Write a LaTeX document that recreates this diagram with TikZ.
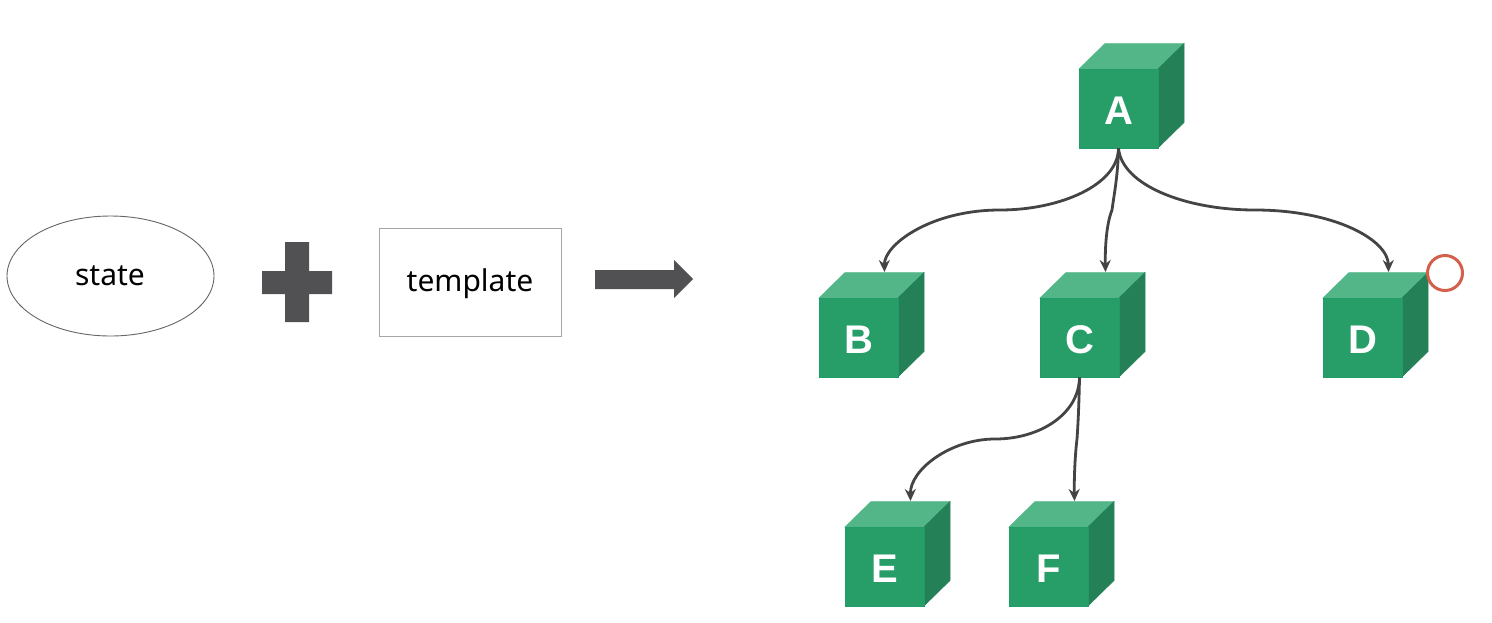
\documentclass[tikz,border=0pt]{standalone}
\usepackage{fontspec}
\setmainfont{Liberation Sans}
\newfontfamily\labelfont{Noto Sans}
\usetikzlibrary{arrows.meta,shapes.geometric}
\definecolor{cubefront}{HTML}{279E68}
\definecolor{cubeedge}{HTML}{1F9C68}
\definecolor{cubetop}{HTML}{52B688}
\definecolor{cubeside}{HTML}{248056}
\definecolor{ink}{HTML}{444444}
\definecolor{shapeink}{HTML}{515052}
\definecolor{ringred}{HTML}{D2604A}
\tikzset{
  cubeface/.style={draw=cubeedge,line width=0.8pt,fill=cubefront,minimum width=79pt,minimum height=79pt,inner sep=0pt,text=white},
  cubeletter/.style={inner sep=0pt,text=white,font=\fontsize{40}{40}\selectfont\bfseries},
  link/.style={draw=ink,line width=2.8pt,-{Stealth[length=12pt,width=11pt]}},
  outline/.style={draw=#1,line width=0.9pt,fill=white,inner sep=0pt},
  caption/.style={font=\labelfont\fontsize{30}{30}\selectfont,text=black}
}
\newcommand{\greencube}[4]{%
  \filldraw[cubetop,line width=0.5pt] (#2,#3) -- ++(26,-25.5) -- ++(79,0) -- (#2+79,#3) -- cycle;
  \filldraw[cubeside,line width=0.5pt] (#2+79,#3) -- ++(26,-25.5) -- ++(0,79) -- (#2+79,#3+79) -- cycle;
  \node[cubeface] (#1) at (#2+39.5,#3+39.5) {};
  \node[cubeletter] (#1label) at (#2+39.5,#3+41.5) {#4};
  \coordinate (#1top) at (#2+65.5,#3-26);
}
\begin{document}
\begin{tikzpicture}[x=1pt,y=-1pt]
\useasboundingbox (0,0) rectangle (1492,622);
\node[outline=gray!80!black,ellipse,minimum width=207pt,minimum height=120pt] (state) at (110.5,276) {};
\node[caption] (statetext) at (110,276) {state};
\node[outline=gray!70,minimum width=182pt,minimum height=108pt] (template) at (470,282) {};
\node[caption] (templatetext) at (470,284) {template};
\fill[shapeink] (262,271) -- (285,271) -- (285,242) -- (309,242) -- (309,271) -- (332,271) -- (332,294) -- (309,294) -- (309,322) -- (285,322) -- (285,294) -- (262,294) -- cycle;
\fill[shapeink] (595,270) -- (674,270) -- (674,260) -- (693,279) -- (674,298) -- (674,289) -- (595,289) -- cycle;
\greencube{A}{1079}{69}{A}
\greencube{B}{819}{298}{B}
\greencube{C}{1040}{298}{C}
\greencube{D}{1323}{298}{D}
\greencube{E}{845}{527}{E}
\greencube{F}{1009}{527}{F}
\draw[link] (A.south) .. controls (1118,185) and (1060,210) .. (1000,210) .. controls (930,210) and (884,245) .. (Btop);
\draw[link] (A.south) .. controls (1118,175) and (1114,195) .. (1112,210) .. controls (1106,225) and (1105,250) .. (Ctop);
\draw[link] (A.south) .. controls (1122,185) and (1185,210) .. (1255,210) .. controls (1335,210) and (1388,240) .. (Dtop);
\draw[link] (C.south) .. controls (1079,414) and (1040,439) .. (995,439) .. controls (950,439) and (910,470) .. (Etop);
\draw[link] (C.south) .. controls (1079,405) and (1078,425) .. (1077,439) .. controls (1075,455) and (1074,480) .. (Ftop);
\node[draw=ringred,line width=3pt,circle,minimum size=35pt,inner sep=0pt] (ring) at (1445,273) {};
\end{tikzpicture}
\end{document}
